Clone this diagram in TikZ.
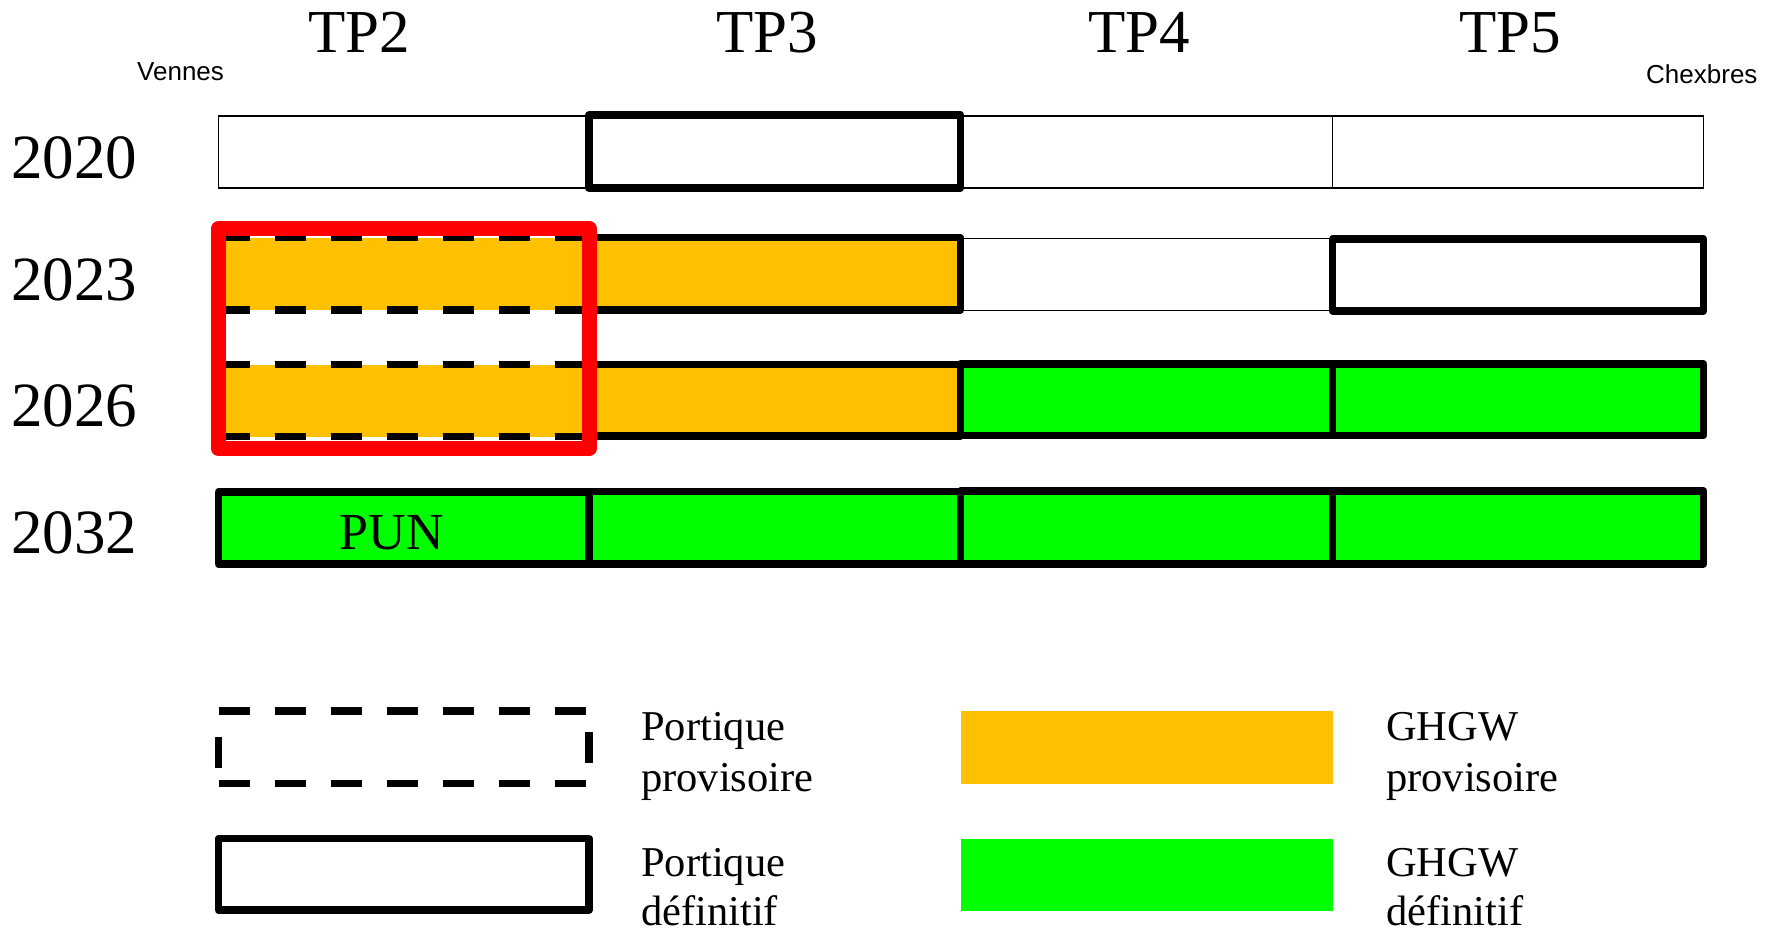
\documentclass[tikz,border=0pt]{standalone}
\usepackage{fontspec}
\setmainfont{Liberation Serif}
\newfontfamily\arialfont{Liberation Sans}
\definecolor{provcol}{HTML}{FFC000}
\definecolor{defcol}{HTML}{00FF00}
\begin{document}
\begin{tikzpicture}[x=1pt,y=-1pt,
  thinbox/.style={draw=black,line width=1.5pt},
  thickbox/.style={draw=black,line width=7.5pt,line join=round},
  provfill/.style={fill=provcol},
  deffill/.style={fill=defcol},
  dashedge/.style={draw=black,line width=7.5pt,dash pattern=on 31pt off 25pt},
  dashside/.style={draw=black,line width=7.5pt,dash pattern=on 31pt off 42pt,dash phase=47pt},
  redframe/.style={draw=red,line width=15pt,line join=round},
  tplabel/.style={anchor=base,inner sep=0pt,font=\fontsize{61}{61}\selectfont},
  yearlabel/.style={anchor=base west,inner sep=0pt,font=\fontsize{63}{63}\selectfont},
  placelabel/.style={anchor=base west,inner sep=0pt,font=\arialfont\fontsize{26}{26}\selectfont},
  legtext/.style={anchor=base west,inner sep=0pt,font=\fontsize{42.5}{42.5}\selectfont}
]
\useasboundingbox (0,0) rectangle (1777,930);
% column edges: 218.5, 588.8, 960.5, 1332.7, 1703.5
% headers
\node[tplabel] (tp2) at (359,52) {TP2};
\node[tplabel] (tp3) at (767,52) {TP3};
\node[tplabel] (tp4) at (1139,52) {TP4};
\node[tplabel] (tp5) at (1510,52) {TP5};
\node[placelabel] (vennes) at (137,80) {Vennes};
\node[placelabel] (chexbres) at (1646,83) {Chexbres};
% years
\node[yearlabel] (y2020) at (11,178) {2020};
\node[yearlabel] (y2023) at (11,300) {2023};
\node[yearlabel] (y2026) at (11,426) {2026};
\node[yearlabel] (y2032) at (11,553) {2032};
% row 2020
\draw[thinbox] (218.5,116) rectangle (588.8,188);
\draw[thinbox] (960.5,116) rectangle (1332.7,188);
\draw[thinbox] (1332.7,116) rectangle (1703.5,188);
\draw[thickbox] (588.8,115) rectangle (960.5,188);
% row 2023
\fill[provfill] (218.5,237.5) rectangle (588.8,310);
\draw[dashedge] (218.5,237.5) -- (588.8,237.5);
\draw[dashedge] (218.5,310) -- (588.8,310);
\draw[thinbox] (960.5,238.5) rectangle (1332.7,310.5);
\draw[thickbox,provfill] (588.8,237.5) rectangle (960.5,310);
\draw[thickbox] (1332.7,239) rectangle (1703.5,311);
% row 2026
\fill[provfill] (218.5,364.5) rectangle (588.8,436.5);
\draw[dashedge] (218.5,364.5) -- (588.8,364.5);
\draw[dashedge] (218.5,436.5) -- (588.8,436.5);
\draw[thickbox,provfill] (588.8,364.5) rectangle (960.5,436);
\draw[thickbox,deffill] (960.5,364) rectangle (1332.7,435.5);
\draw[thickbox,deffill] (1332.7,364) rectangle (1703.5,435.5);
% row 2032
\draw[thickbox,deffill] (218.5,492) rectangle (588.8,564);
\draw[thickbox,deffill] (588.8,491.5) rectangle (960.5,564);
\draw[thickbox,deffill] (960.5,491) rectangle (1332.7,564);
\draw[thickbox,deffill] (1332.7,491) rectangle (1703.5,564);
\node[anchor=base,inner sep=0pt,font=\fontsize{52}{52}\selectfont] (pun) at (392,549) {PUN};
% red frame
\draw[redframe] (218.5,228.5) rectangle (589,448.5);
% legend
\draw[dashedge] (218.5,711) -- (589,711);
\draw[dashedge] (218.5,783.5) -- (589,783.5);
\draw[dashside] (218.5,711) -- (218.5,783.5);
\draw[dashside] (589,706) -- (589,783.5);
\draw[thickbox] (218.5,838.5) rectangle (589,910);
\fill[provfill] (960.5,711) rectangle (1332.5,784);
\fill[deffill] (960.5,838.5) rectangle (1332.5,910.5);
\node[legtext] (lpp1) at (641,740) {Portique};
\node[legtext] (lpp2) at (641,791) {provisoire};
\node[legtext] (lpd1) at (641,876) {Portique};
\node[legtext] (lpd2) at (641,925) {définitif};
\node[legtext] (lgp1) at (1386,740) {GHGW};
\node[legtext] (lgp2) at (1386,791) {provisoire};
\node[legtext] (lgd1) at (1386,876) {GHGW};
\node[legtext] (lgd2) at (1386,925) {définitif};
\end{tikzpicture}
\end{document}
